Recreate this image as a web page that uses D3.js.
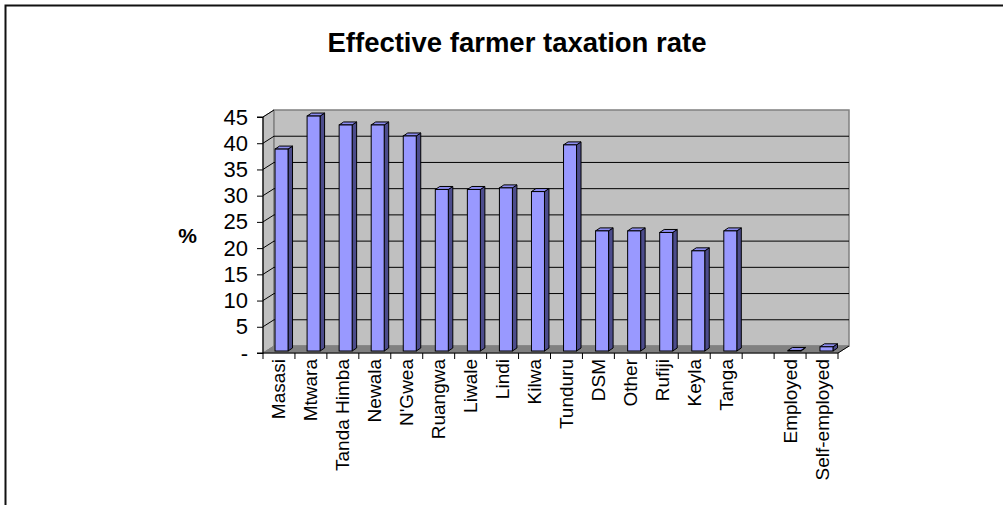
<!DOCTYPE html>
<html>
<head>
<meta charset="utf-8">
<script src="https://cdn.jsdelivr.net/npm/d3@7"></script>
<style>
  html, body { margin: 0; padding: 0; background: #fff; }
  svg { display: block; font-family: "Liberation Sans", Arial, sans-serif; }
</style>
</head>
<body>
<svg id="chart" width="1003" height="505"></svg>
<script>
// ---- data ----
const categories = ["Masasi", "Mtwara", "Tanda Himba", "Newala", "N'Gwea", "Ruangwa", "Liwale", "Lindi", "Kilwa", "Tunduru", "DSM", "Other", "Rufiji", "Keyla", "Tanga", "", "Employed", "Self-employed"];
const values = [38.5, 44.8, 43.1, 43.1, 41.0, 30.8, 30.8, 31.1, 30.4, 39.3, 22.9, 22.9, 22.6, 19.1, 22.9, null, 0.1, 0.8];
const yTicks = [0, 5, 10, 15, 20, 25, 30, 35, 40, 45];
const titleText = "Effective farmer taxation rate";
const yAxisTitle = "%";

// ---- layout ----
const svg = d3.select("#chart");
const x0 = 263, x1 = 838;          // front axis extents
const yBase = 353, yTop = 117;     // front value axis
const dx = 11, dy = -7;            // depth offset
const barDx = 2.5, barDy = -2;     // bar front face offset (mid depth)
const barW = 13, sideW = 4.5, sideH = -3;

// frame
svg.append("rect").attr("x", 5.5).attr("y", 5.5).attr("width", 1010).attr("height", 520)
  .attr("fill", "none").attr("stroke", "#111").attr("stroke-width", 2);

// title
svg.append("text").attr("x", 517).attr("y", 52).attr("text-anchor", "middle")
  .attr("font-size", 27.5).attr("font-weight", "bold").attr("fill", "#000").text(titleText);

const x = d3.scaleBand().domain(categories).range([x0, x1]).padding(0);
const xBar = d3.scaleBand().domain(categories).range([x0 + barDx, x1 + barDx + 2]).padding(0);
const y = d3.scaleLinear().domain([0, 45]).range([yBase, yTop]);
const yBar = d3.scaleLinear().domain([0, 45]).range([yBase + barDy, yTop + barDy]);

// walls
const g = svg.append("g");
// left side wall
g.append("path").attr("d", `M${x0},${y(0)}L${x0},${y(45)}L${x0 + dx},${y(45) + dy}L${x0 + dx},${y(0) + dy}Z`)
  .attr("fill", "#c0c0c0").attr("stroke", "#808080").attr("stroke-width", 1);
// back wall
g.append("rect").attr("x", x0 + dx).attr("y", y(45) + dy).attr("width", x1 - x0).attr("height", y(0) - y(45))
  .attr("fill", "#c0c0c0").attr("stroke", "#808080").attr("stroke-width", 1.5);
// floor
g.append("path").attr("d", `M${x0},${y(0)}L${x1},${y(0)}L${x1 + dx},${y(0) + dy}L${x0 + dx},${y(0) + dy}Z`)
  .attr("fill", "#808080").attr("stroke", "#808080");

// gridlines
const grid = yTicks.filter(v => v > 0 && v < 45);
g.selectAll("line.gb").data(grid).enter().append("line")
  .attr("x1", x0 + dx).attr("x2", x1 + dx)
  .attr("y1", d => y(d) + dy).attr("y2", d => y(d) + dy)
  .attr("stroke", "#000").attr("stroke-width", 1);
g.selectAll("line.gs").data(yTicks.filter(v => v > 0)).enter().append("line")
  .attr("x1", x0).attr("x2", x0 + dx)
  .attr("y1", d => y(d)).attr("y2", d => y(d) + dy)
  .attr("stroke", "#000").attr("stroke-width", 1);

// bars
const bars = g.selectAll("g.bar").data(categories.map((c, i) => ({ c, v: values[i] })).filter(d => d.v !== null))
  .enter().append("g");
bars.each(function (d) {
  const gg = d3.select(this);
  const cx = xBar(d.c) + xBar.bandwidth() / 2;
  const l = cx - barW / 2, r = cx + barW / 2;
  const b = yBar(0), t = yBar(d.v);
  // side
  gg.append("path").attr("d", `M${r},${b}L${r},${t}L${r + sideW},${t + sideH}L${r + sideW},${b + sideH}Z`)
    .attr("fill", "#4c4c8c").attr("stroke", "#000").attr("stroke-width", 1).attr("stroke-linejoin", "round");
  // top
  gg.append("path").attr("d", `M${l},${t}L${r},${t}L${r + sideW},${t + sideH}L${l + sideW},${t + sideH}Z`)
    .attr("fill", "#8c8cf0").attr("stroke", "#000").attr("stroke-width", 1).attr("stroke-linejoin", "round");
  // front
  if (b - t > 0.5) {
    gg.append("rect").attr("x", l).attr("y", t).attr("width", barW).attr("height", b - t)
      .attr("fill", "#9999ff").attr("stroke", "#000").attr("stroke-width", 1);
  }
});

// value axis (front)
const yAxis = d3.axisLeft(y).tickValues(yTicks).tickSize(6).tickPadding(9)
  .tickFormat(v => v === 0 ? "-" : d3.format("d")(v));
const ya = svg.append("g").attr("transform", `translate(${x0},0)`).call(yAxis);
ya.select(".domain").attr("stroke", "#000").attr("stroke-width", 1.2).attr("d", `M-6,${y(0)}H0V${y(45)}H-6`);
ya.selectAll(".tick line").attr("stroke", "#000");
ya.selectAll(".tick text").attr("font-size", 22).attr("font-family", "Liberation Sans, Arial, sans-serif").attr("fill", "#000");

// category axis line + right depth edge
svg.append("line").attr("x1", x0).attr("x2", x1).attr("y1", y(0)).attr("y2", y(0)).attr("stroke", "#000").attr("stroke-width", 1.2);
svg.append("line").attr("x1", x1).attr("x2", x1 + dx).attr("y1", y(0)).attr("y2", y(0) + dy).attr("stroke", "#000").attr("stroke-width", 1);
const bounds = categories.map(c => x(c)).concat([x1]);
svg.selectAll("line.ct").data(bounds).enter().append("line")
  .attr("x1", d => d).attr("x2", d => d).attr("y1", y(0)).attr("y2", y(0) + 6)
  .attr("stroke", "#000").attr("stroke-width", 1);

// category labels
svg.selectAll("text.cl").data(categories).enter().append("text")
  .attr("transform", d => `translate(${x(d) + x.bandwidth() / 2 + 6.5},359) rotate(-90)`)
  .attr("text-anchor", "end").attr("font-size", 19).attr("fill", "#000").text(d => d);

// y axis title
svg.append("text").attr("x", 187.5).attr("y", 243).attr("text-anchor", "middle")
  .attr("font-size", 21).attr("font-weight", "bold").attr("fill", "#000").text(yAxisTitle);
</script>
</body>
</html>
